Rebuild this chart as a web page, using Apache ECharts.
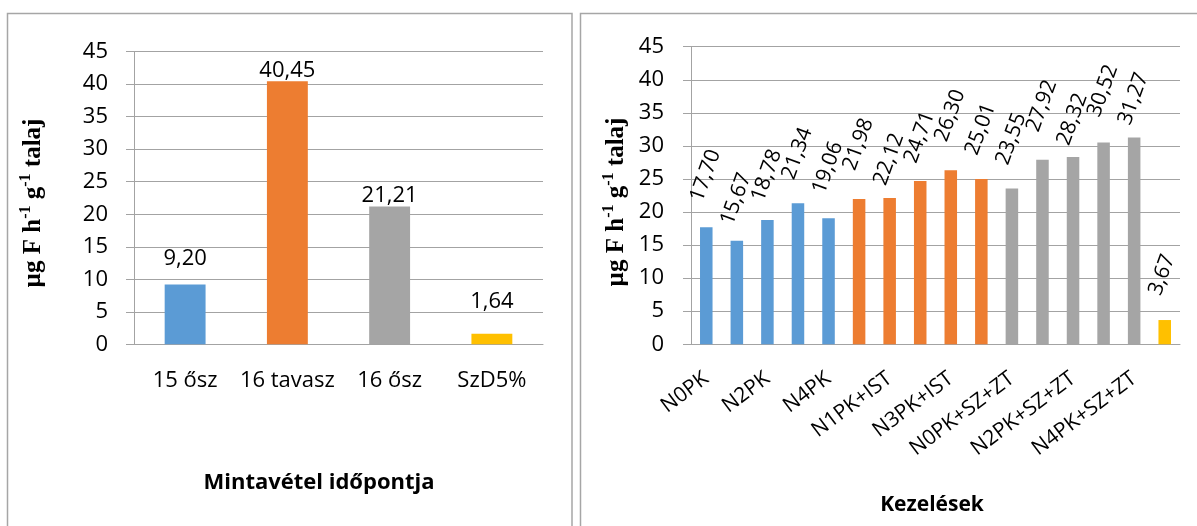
<!DOCTYPE html>
<html><head><meta charset="utf-8">
<script src="https://cdn.jsdelivr.net/npm/echarts@6/dist/echarts.min.js"></script>
<style>html,body{margin:0;padding:0;background:#fff}#c{width:1197px;height:526px}</style>
</head><body><div id="c"></div>
<script>
// ---- data ----
const leftCategories = ['15 ősz', '16 tavasz', '16 ősz', 'SzD5%'];
const leftValues = [9.20, 40.45, 21.21, 1.64];
const leftGroups = [0, 1, 2, 3];

const rightCategories = ['N0PK', 'N1PK', 'N2PK', 'N3PK', 'N4PK',
  'N0PK+IST', 'N1PK+IST', 'N2PK+IST', 'N3PK+IST', 'N4PK+IST',
  'N0PK+SZ+ZT', 'N1PK+SZ+ZT', 'N2PK+SZ+ZT', 'N3PK+SZ+ZT', 'N4PK+SZ+ZT', 'SzD5%'];
const rightValues = [17.70, 15.67, 18.78, 21.34, 19.06, 21.98, 22.12, 24.71, 26.30, 25.01,
  23.55, 27.92, 28.32, 30.52, 31.27, 3.67];
const rightGroups = [0, 0, 0, 0, 0, 1, 1, 1, 1, 1, 2, 2, 2, 2, 2, 3];

const yMin = 0, yMax = 45, yStep = 5;
const leftXTitle = 'Mintavétel időpontja';
const rightXTitle = 'Kezelések';

// ---- styles ----
const groupColors = ['#5B9BD5', '#ED7D31', '#A5A5A5', '#FFC000'];
const leftLabelDist = [15, 0, 0, 21];
const rightLabelDist = [23, 13, 16, 21, 22, 26, 10, 15, 26, 21, 21, 25, 9, 23, 10, 22];
const FONT = '"Open Sans", "Liberation Sans", sans-serif';
const SERIF = '"Liberation Serif", "DejaVu Serif", serif';
const gridColor = '#a3a3a3';
const fmt = v => v.toFixed(2).replace('.', ',');

const leftData = leftValues.map((v, i) => ({
  value: v,
  itemStyle: { color: groupColors[leftGroups[i]] },
  label: { distance: leftLabelDist[i] }
}));
const rightData = rightValues.map((v, i) => ({
  value: v,
  itemStyle: { color: groupColors[rightGroups[i]] },
  label: { distance: rightLabelDist[i] }
}));

function yAxis(gridIndex, margin) {
  return {
    type: 'value', gridIndex, min: yMin, max: yMax, interval: yStep,
    axisLine: { show: true, lineStyle: { color: gridColor, width: 1 } },
    axisTick: { show: true, length: 8, lineStyle: { color: gridColor } },
    splitLine: { lineStyle: { color: gridColor, width: 1 } },
    axisLabel: { color: '#000', fontSize: 22, fontFamily: FONT, margin }
  };
}

const ytRich = {
  n: { fontFamily: SERIF, fontWeight: 'bold', fontSize: 25, fill: '#000', color: '#000', verticalAlign: 'bottom', lineHeight: 28 },
  s: { fontFamily: SERIF, fontWeight: 'bold', fontSize: 16, fill: '#000', color: '#000', verticalAlign: 'top', lineHeight: 16 }
};
const ytText = '{n|µg F h}{s|-1}{n| g}{s|-1}{n| talaj}';

const chart = echarts.init(document.getElementById('c'), null, { renderer: 'canvas' });
chart.setOption({
  backgroundColor: '#fff',
  animation: false,
  grid: [
    { left: 134, right: 654, top: 51.7, bottom: 181.7, outerBoundsMode: 'none' },
    { left: 691, right: 17, top: 46.7, bottom: 181.7, outerBoundsMode: 'none' }
  ],
  xAxis: [
    {
      type: 'category', gridIndex: 0, data: leftCategories,
      axisLine: { lineStyle: { color: gridColor } },
      axisTick: { show: false },
      axisLabel: { color: '#000', fontSize: 22, fontFamily: FONT, margin: 25, interval: 0 }
    },
    {
      type: 'category', gridIndex: 1, data: rightCategories,
      axisLine: { lineStyle: { color: gridColor } },
      axisTick: { show: false },
      axisLabel: { color: '#000', fontSize: 21, fontFamily: FONT, margin: 32, rotate: 37, interval: 1 }
    }
  ],
  yAxis: [yAxis(0, 26), yAxis(1, 27)],
  series: [
    {
      type: 'bar', xAxisIndex: 0, yAxisIndex: 0, barWidth: '40%', data: leftData,
      label: {
        show: true, position: 'top', color: '#000', fontSize: 22, fontFamily: FONT,
        formatter: p => fmt(p.value)
      }
    },
    {
      type: 'bar', xAxisIndex: 1, yAxisIndex: 1, barWidth: '41%', data: rightData,
      label: {
        show: true, position: 'top', color: '#000', fontSize: 21, fontFamily: FONT,
        rotate: 70, align: 'left', verticalAlign: 'bottom',
        formatter: p => fmt(p.value)
      }
    }
  ],
  graphic: [
    { type: 'rect', silent: true, z: -10, shape: { x: 7.5, y: 13.5, width: 564.5, height: 530 },
      style: { fill: 'none', stroke: '#a6a6a6', lineWidth: 1.5 } },
    { type: 'rect', silent: true, z: -10, shape: { x: 580.5, y: 13.5, width: 640, height: 530 },
      style: { fill: 'none', stroke: '#a6a6a6', lineWidth: 1.5 } },
    { type: 'text', x: 32, y: 203, rotation: Math.PI / 2,
      style: { text: ytText, rich: ytRich, align: 'center', verticalAlign: 'middle', fill: '#000' } },
    { type: 'text', x: 615, y: 202, rotation: Math.PI / 2,
      style: { text: ytText, rich: ytRich, align: 'center', verticalAlign: 'middle', fill: '#000' } },
    { type: 'text', x: 319, y: 483,
      style: { text: leftXTitle, font: 'bold 22px ' + FONT, align: 'center', verticalAlign: 'middle', fill: '#000' } },
    { type: 'text', x: 932, y: 505,
      style: { text: rightXTitle, font: 'bold 21px ' + FONT, align: 'center', verticalAlign: 'middle', fill: '#000' } }
  ]
});
</script>
</body></html>
